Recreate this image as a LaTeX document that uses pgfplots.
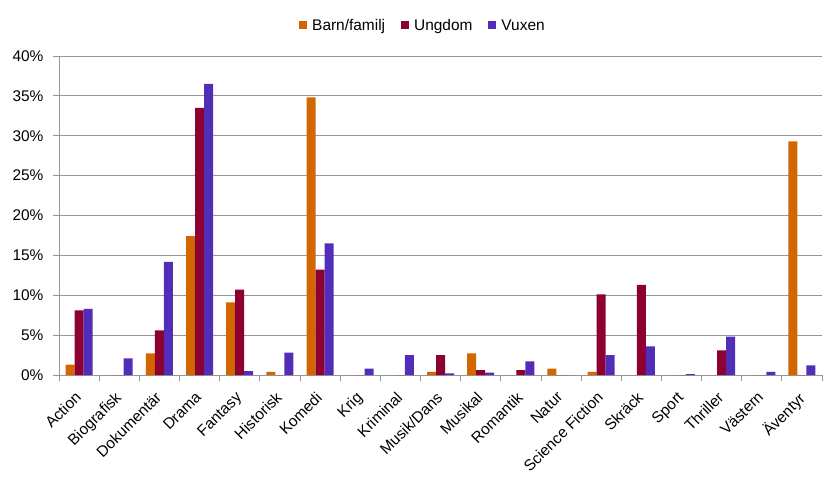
\documentclass[border=0pt]{standalone}
\usepackage{pgfplots}
\usepackage{pgfplotstable}
\pgfplotsset{compat=1.18}
\usepackage{fontspec}
\setmainfont{Liberation Sans}
\definecolor{cBarn}{RGB}{210,102,0}
\definecolor{cUng}{RGB}{140,0,50}
\definecolor{cVux}{RGB}{82,46,184}
\definecolor{cGrid}{RGB}{150,150,150}
\pgfplotstableread{
x barn ung vux
0 1.3 8.1 8.3
1 0 0 2.1
2 2.7 5.6 14.2
3 17.4 33.5 36.5
4 9.1 10.7 0.5
5 0.4 0 2.8
6 34.8 13.2 16.5
7 0 0 0.8
8 0 0 2.5
9 0.4 2.5 0.2
10 2.7 0.6 0.3
11 0 0.6 1.7
12 0.8 0 0
13 0.4 10.1 2.5
14 0 11.3 3.6
15 0 0 0.1
16 0 3.1 4.8
17 0 0 0.4
18 29.3 0 1.2
}\data
\begin{document}
\begin{tikzpicture}
\useasboundingbox (-59bp,-111bp) rectangle (781bp,375bp);
\begin{axis}[at={(0,0)}, anchor=south west,
  width=763bp, height=319bp, scale only axis,
  ybar=0pt, bar width=9bp,
  xmin=-0.5, xmax=18.5, ymin=0, ymax=40,
  xtick={0,...,18},
  xticklabels={Action,Biografisk,Dokumentär,Drama,Fantasy,Historisk,Komedi,Krig,Kriminal,Musik/Dans,Musikal,Romantik,Natur,Science Fiction,Skräck,Sport,Thriller,Västern,Äventyr},
  major x tick style={draw=none},
  minor xtick={-0.5,0.5,...,18.5},
  x tick label style={xshift=-5bp, yshift=-8bp, rotate=45, anchor=north east, inner sep=1pt, font=\fontsize{15.5}{17}\selectfont},
  ytick={0,5,...,40},
  yticklabels={0\%,5\%,10\%,15\%,20\%,25\%,30\%,35\%,40\%},
  y tick label style={font=\fontsize{15.5}{17}\selectfont, xshift=-6bp},
  ymajorgrids, grid style={cGrid, line width=0.8pt},
  axis x line*=bottom, axis y line*=left,
  axis line style={-, cGrid, line width=0.8pt},
  tick align=outside, major tick length=6bp, minor tick length=6bp,
  tick style={cGrid, line width=0.8pt},
  every tick/.style={cGrid, line width=0.8pt},
  legend style={at={(0.477,1)}, anchor=south, yshift=20bp, draw=none, fill=none,
    font=\fontsize{15.5}{17}\selectfont, legend columns=3,
    /tikz/every odd column/.append style={column sep=3bp},
    /tikz/every even column/.append style={column sep=14bp}},
  legend image code/.code={\fill[#1] (0bp,-4bp) rectangle (8bp,4bp);},
]
\addplot[fill=cBarn, draw=none] table[x=x, y=barn] {\data};
\addplot[fill=cUng, draw=none] table[x=x, y=ung] {\data};
\addplot[fill=cVux, draw=none] table[x=x, y=vux] {\data};
\legend{Barn/familj,Ungdom,Vuxen}
\end{axis}
\end{tikzpicture}
\end{document}
